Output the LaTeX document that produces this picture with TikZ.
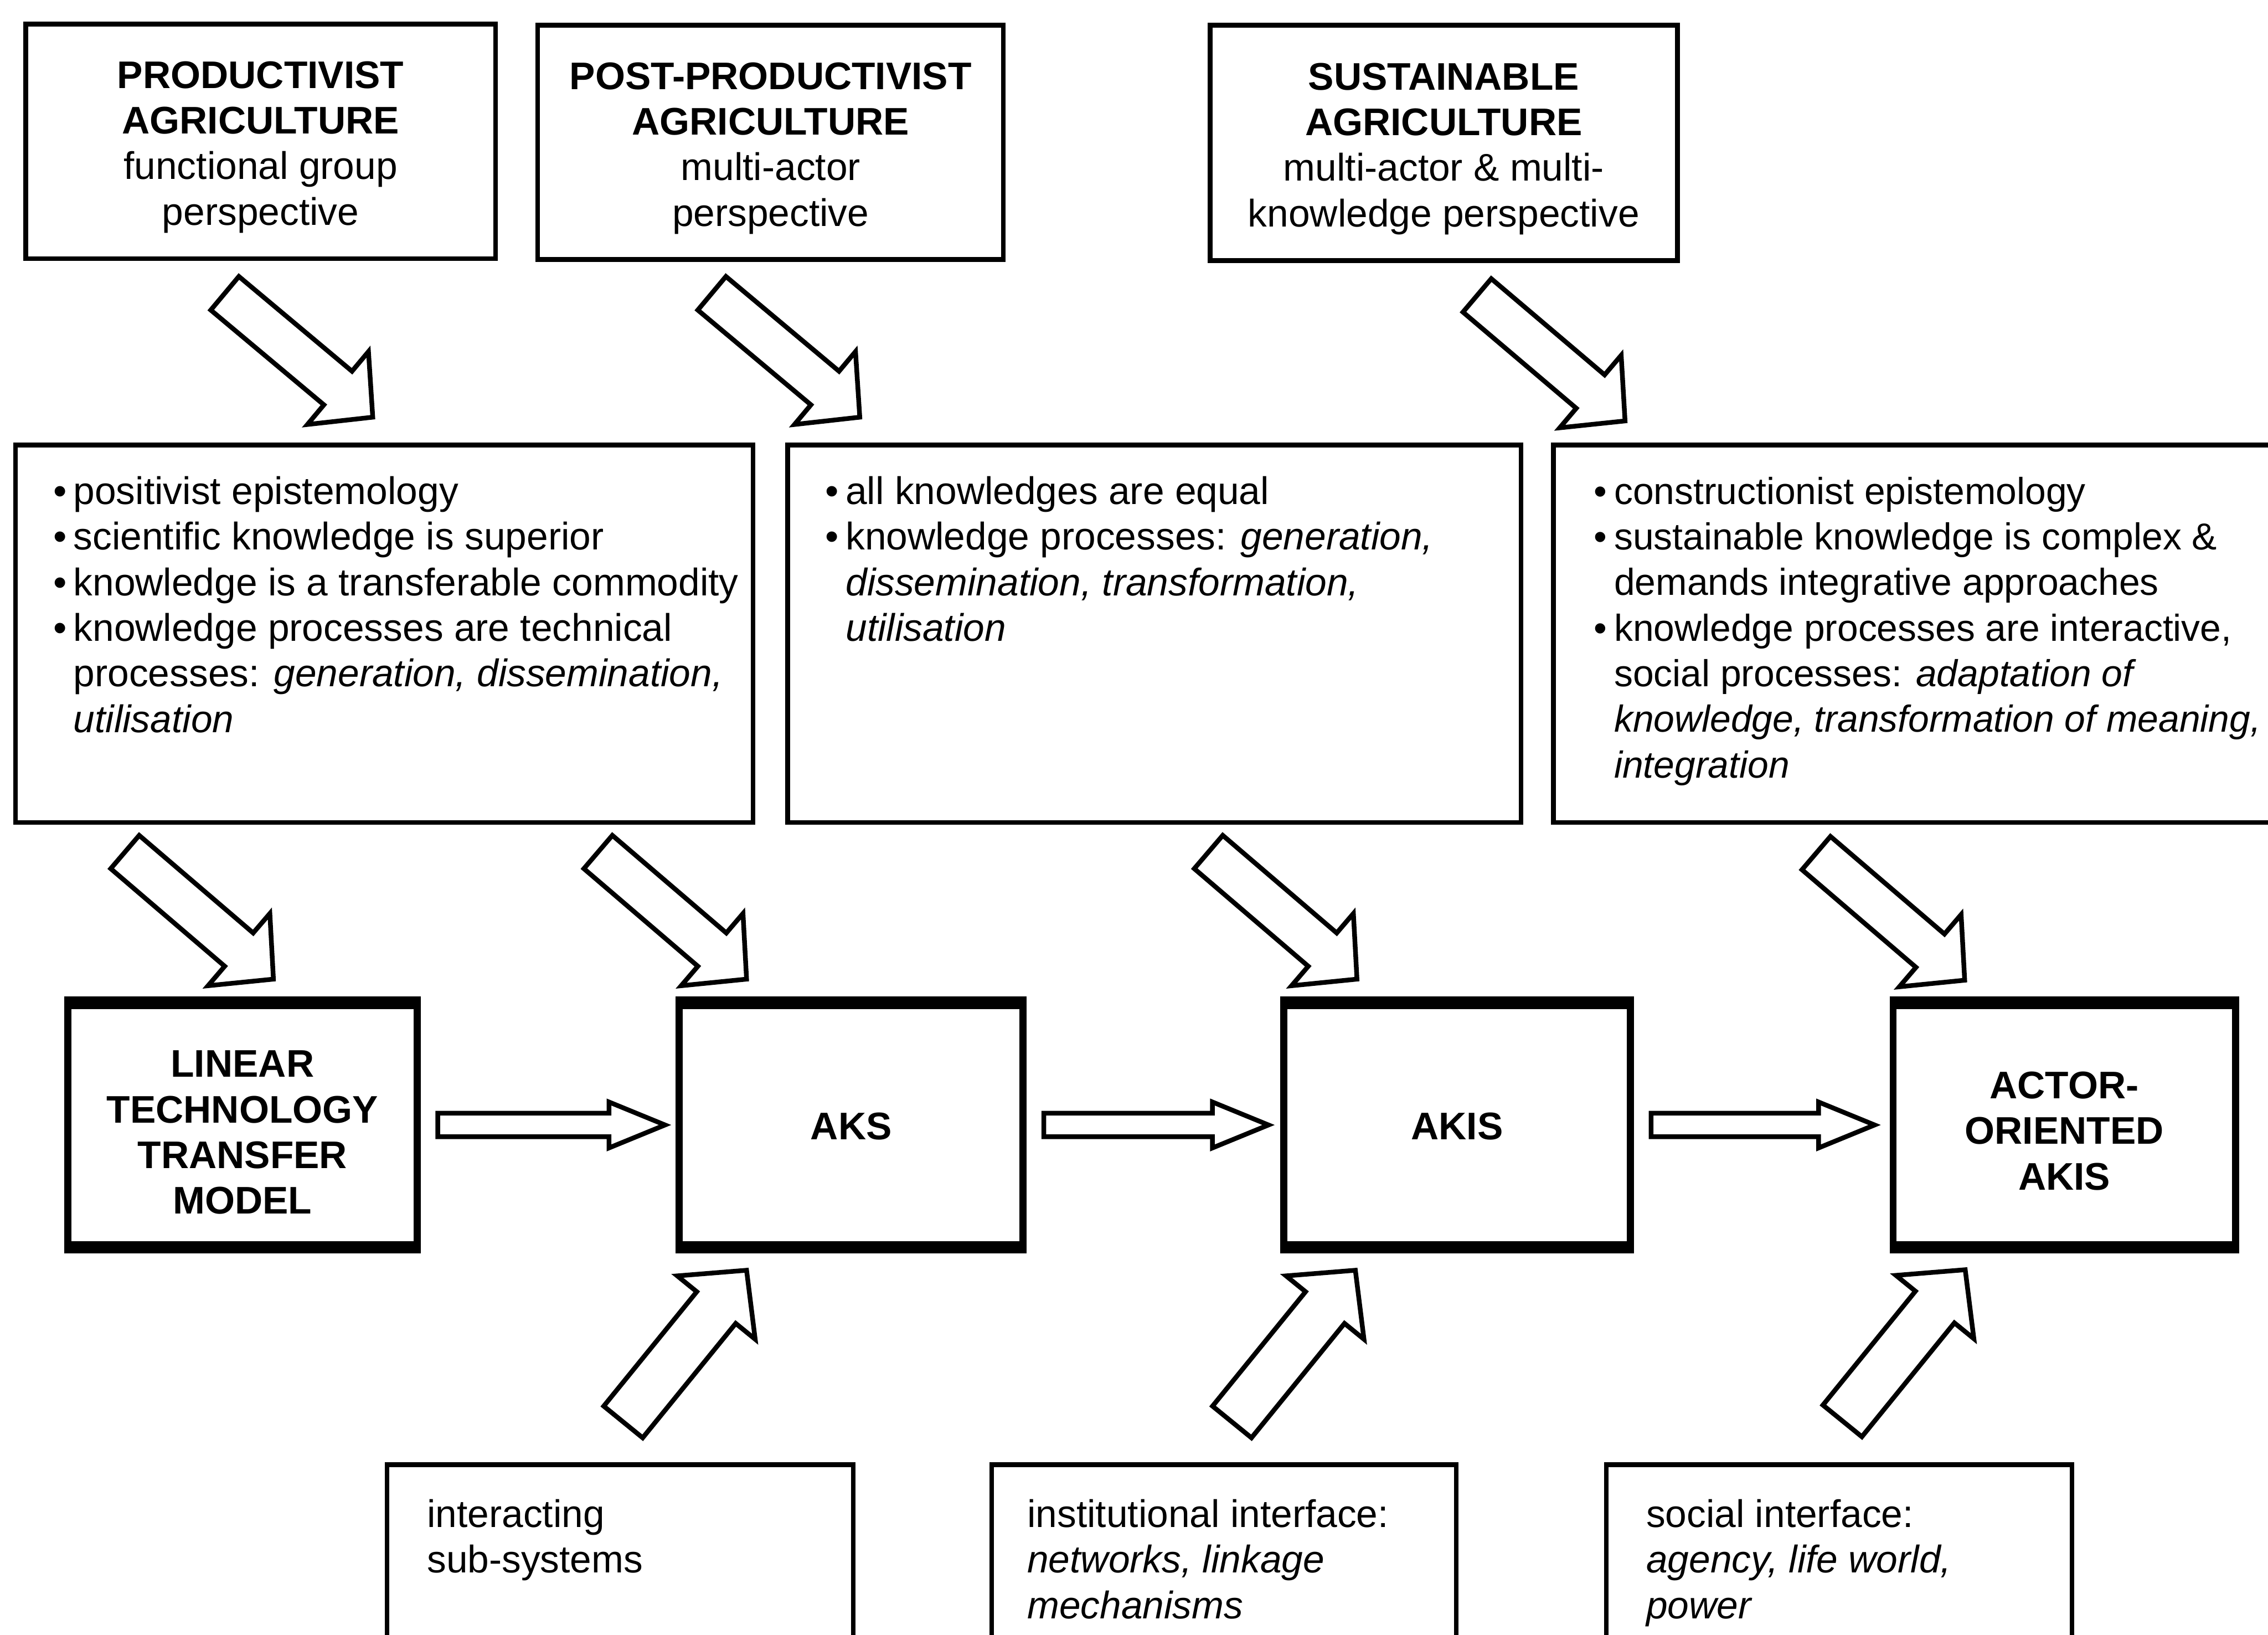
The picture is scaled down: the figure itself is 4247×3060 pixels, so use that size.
\documentclass[tikz,border=0pt]{standalone}
\usepackage{fontspec}
\setmainfont{Liberation Sans}
\usetikzlibrary{calc,fit}

% bullet with a hanging indent for list-like box texts
\newcommand\bul{\makebox[10.8pt][l]{\textbullet}}
\newcommand\hang{\hspace*{10.8pt}}

% hollow block arrow: #1 name, #2 tail centre, #3 tip,
% #4 shaft half-width, #5 head half-width, #6 head length
\newcommand\blockarr[6]{%
  \coordinate (#1-b) at ($(#3)!#6!(#2)$);
  \draw[blockarrow] ($(#2)!#4!90:(#3)$) -- ($(#1-b)!#4!90:(#3)$)
    -- ($(#1-b)!#5!90:(#3)$) -- (#3) -- ($(#1-b)!#5!-90:(#3)$)
    -- ($(#1-b)!#4!-90:(#3)$) -- ($(#2)!#4!-90:(#3)$) -- cycle;
}

\tikzset{
  every node/.style={font=\fontsize{20.5pt}{24.3pt}\selectfont, inner sep=0pt},
  thinbox/.style={draw, line width=2.5pt},
  modelbox/.style={draw, line width=3.8pt},
  heavyedge/.style={line width=5.6pt},
  headtext/.style={align=center},
  modeltext/.style={align=center, font=\fontsize{20.5pt}{24.3pt}\selectfont\bfseries},
  bodytext/.style={align=left, anchor=north west},
  blockarrow/.style={draw, line width=2.5pt, fill=white, line join=miter},
}

\begin{document}
\begin{tikzpicture}[x=0.1mm, y=-0.1mm]
\useasboundingbox[fill=white] (0,0) rectangle (4247,3060);

% ---- perspectives (top row)
\node[thinbox, fit={(48,45) (928,484)}] (p1) {};
\node[thinbox, fit={(1007,47) (1879,486)}] (p2) {};
\node[thinbox, fit={(2266,47) (3141,488)}] (p3) {};
\node[headtext] (p1t) at ($(p1.center)+(0,11)$)
  {\textbf{PRODUCTIVIST}\\\textbf{AGRICULTURE}\\functional group\\perspective};
\node[headtext] (p2t) at ($(p2.center)+(0,11)$)
  {\textbf{POST-PRODUCTIVIST}\\\textbf{AGRICULTURE}\\multi-actor\\perspective};
\node[headtext] (p3t) at ($(p3.center)+(0,11)$)
  {\textbf{SUSTAINABLE}\\\textbf{AGRICULTURE}\\multi-actor \& multi-\\knowledge perspective};

% ---- knowledge views (middle row)
\node[thinbox, fit={(29,833) (1410,1540)}] (k1) {};
\node[thinbox, fit={(1475,833) (2848,1540)}] (k2) {};
\node[thinbox, fit={(2909,833) (4300,1540)}] (k3) {};

\node[bodytext] (k1t) at (99,891)
  {\bul positivist epistemology\\
   \bul scientific knowledge is superior\\
   \bul knowledge is a transferable commodity\\
   \bul knowledge processes are technical\\
   \hang processes: \textit{generation, dissemination,}\\
   \hang \textit{utilisation}};
\node[bodytext] (k2t) at (1545,891)
  {\bul all knowledges are equal\\
   \bul knowledge processes: \textit{generation,}\\
   \hang \textit{dissemination, transformation,}\\
   \hang \textit{utilisation}};
\node[bodytext, font=\fontsize{20pt}{24.3pt}\selectfont] (k3t) at (2984,892)
  {\bul constructionist epistemology\\
   \bul sustainable knowledge is complex \&\\
   \hang demands integrative approaches\\
   \bul knowledge processes are interactive,\\
   \hang social processes: \textit{adaptation of}\\
   \hang \textit{knowledge, transformation of meaning,}\\
   \hang \textit{integration}};

% ---- models (heavy boxes)
\node[modelbox, fit={(127,1882) (781,2330)}] (s1) {};
\node[modelbox, fit={(1272,1882) (1916,2330)}] (s2) {};
\node[modelbox, fit={(2404,1882) (3053,2330)}] (s3) {};
\node[modelbox, fit={(3545,1882) (4186,2330)}] (s4) {};
\foreach \m in {s1,s2,s3,s4}{
  \draw[heavyedge] (\m.north west) -- (\m.north east);
  \draw[heavyedge] (\m.south west) -- (\m.south east);
}
\node[modeltext] (s1t) at ($(s1.center)+(0,14)$) {LINEAR\\TECHNOLOGY\\TRANSFER\\MODEL};
\node[modeltext] (s2t) at ($(s2.center)+(0,3)$) {AKS};
\node[modeltext] (s3t) at ($(s3.center)+(0,3)$) {AKIS};
\node[modeltext] (s4t) at ($(s4.center)+(0,11)$) {ACTOR-\\ORIENTED\\AKIS};

% ---- interfaces (lowest row)
\node[thinbox, fit={(725,2742) (1598,3200)}] (b1) {};
\node[thinbox, fit={(1857,2742) (2727,3200)}] (b2) {};
\node[thinbox, fit={(3008,2742) (3880,3200)}] (b3) {};
\node[bodytext] (b1t) at (799,2806) {interacting\\sub-systems};
\node[bodytext] (b2t) at (1923,2806)
  {institutional interface:\\\textit{networks, linkage}\\\textit{mechanisms}};
\node[bodytext] (b3t) at (3082,2806)
  {social interface:\\\textit{agency, life world,}\\\textit{power}};

% ---- arrows from perspectives to knowledge views
\coordinate (a1t) at (421,549);   \coordinate (a1p) at (698,781);
\coordinate (a2t) at (1333,549);  \coordinate (a2p) at (1610,781);
\coordinate (a3t) at (2766,553);  \coordinate (a3p) at (3043,788);
\blockarr{a1}{a1t}{a1p}{4.1mm}{8.9mm}{8.5mm}
\blockarr{a2}{a2t}{a2p}{4.1mm}{8.9mm}{8.5mm}
\blockarr{a3}{a3t}{a3p}{4.1mm}{8.9mm}{8.5mm}

% ---- arrows from knowledge views to models
\coordinate (a4t) at (234,1595);  \coordinate (a4p) at (512,1833);
\coordinate (a5t) at (1120,1595); \coordinate (a5p) at (1398,1833);
\coordinate (a6t) at (2263,1595); \coordinate (a6p) at (2541,1833);
\coordinate (a7t) at (3401,1597); \coordinate (a7p) at (3679,1835);
\blockarr{a4}{a4t}{a4p}{4.1mm}{8.9mm}{8.5mm}
\blockarr{a5}{a5t}{a5p}{4.1mm}{8.9mm}{8.5mm}
\blockarr{a6}{a6t}{a6p}{4.1mm}{8.9mm}{8.5mm}
\blockarr{a7}{a7t}{a7p}{4.1mm}{8.9mm}{8.5mm}

% ---- arrows between models
\coordinate (h1t) at ($(s1.east)+(32,0)$); \coordinate (h1p) at ($(s2.west)+(-20,0)$);
\coordinate (h2t) at ($(s2.east)+(32,0)$); \coordinate (h2p) at ($(s3.west)+(-22,0)$);
\coordinate (h3t) at ($(s3.east)+(32,0)$); \coordinate (h3p) at ($(s4.west)+(-28,0)$);
\blockarr{h1}{h1t}{h1p}{2.2mm}{4.3mm}{10.5mm}
\blockarr{h2}{h2t}{h2p}{2.2mm}{4.3mm}{10.5mm}
\blockarr{h3}{h3t}{h3p}{2.2mm}{4.3mm}{10.5mm}

% ---- arrows from interfaces up to models
\coordinate (c1t) at (1167,2662); \coordinate (c1p) at (1398,2378);
\coordinate (c2t) at (2307,2662); \coordinate (c2p) at (2538,2378);
\coordinate (c3t) at (3450,2660); \coordinate (c3p) at (3680,2377);
\blockarr{c1}{c1t}{c1p}{4.7mm}{9.4mm}{9.0mm}
\blockarr{c2}{c2t}{c2p}{4.7mm}{9.4mm}{9.0mm}
\blockarr{c3}{c3t}{c3p}{4.7mm}{9.4mm}{9.0mm}
\end{tikzpicture}
\end{document}
